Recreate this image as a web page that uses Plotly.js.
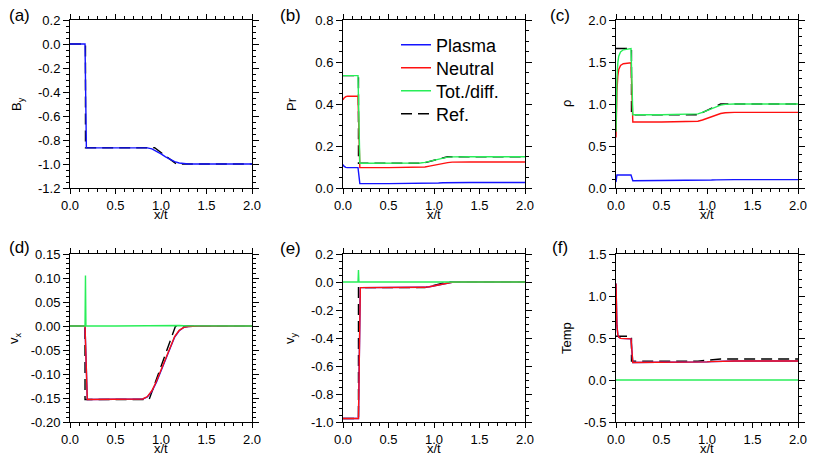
<!DOCTYPE html>
<html>
<head>
<meta charset="utf-8">
<script src="https://cdn.plot.ly/plotly-3.0.1.min.js"></script>
<style>html,body{margin:0;padding:0;background:#fff;}#chart{width:817px;height:467px;}</style>
</head>
<body>
<div id="chart"></div>
<script>
// ---------------- data ----------------
// (a) B_y
const aX       = [0,0.165,0.18,0.8,0.85,0.9,0.95,1.0,1.05,1.1,1.15,1.2,1.25,1.3,1.4,2.0];
const aPlasma  = [0,0,-0.865,-0.865,-0.866,-0.874,-0.892,-0.915,-0.94,-0.962,-0.98,-0.992,-0.998,-1.0,-1.0,-1.0];
const aRefX    = [0,0.17,0.17,0.93,1.17,2.0];
const aRef     = [0,0,-0.865,-0.865,-1.0,-1.0];

// (b) Pr
const bX       = [0,0.01,0.03,0.05,0.165,0.185,0.5,0.85,0.9,0.95,1.0,1.05,1.1,1.15,1.2,1.25,1.3,1.4,2.0];
const bPlasma  = [0.112,0.104,0.098,0.097,0.097,0.021,0.021,0.021,0.0215,0.022,0.023,0.024,0.025,0.0255,0.026,0.026,0.026,0.026,0.026];
const bNeutral = [0.42,0.428,0.435,0.437,0.437,0.097,0.097,0.098,0.1,0.104,0.109,0.114,0.118,0.121,0.123,0.124,0.124,0.124,0.124];
const bTotal   = [0.535,0.535,0.535,0.535,0.535,0.118,0.118,0.119,0.122,0.127,0.133,0.139,0.144,0.147,0.148,0.149,0.149,0.149,0.149];
const bRefX    = [0,0.17,0.17,0.88,1.15,2.0];
const bRef     = [0.535,0.535,0.118,0.118,0.149,0.149];

// (c) rho
const cX       = [0,0.005,0.01,0.02,0.03,0.05,0.08,0.165,0.185,0.5,0.85,0.9,0.95,1.0,1.05,1.1,1.15,1.2,1.25,1.3,1.4,2.0];
const cPlasma  = [0.07,0.15,0.155,0.155,0.155,0.155,0.155,0.155,0.087,0.087,0.087,0.088,0.09,0.092,0.095,0.097,0.099,0.1,0.1,0.1,0.1,0.1];
const cNeutral = [0.6,0.95,1.15,1.33,1.41,1.46,1.48,1.49,0.785,0.785,0.787,0.795,0.81,0.83,0.852,0.872,0.887,0.896,0.9,0.9,0.9,0.9];
const cTotal   = [0.67,1.1,1.3,1.49,1.57,1.62,1.645,1.66,0.872,0.872,0.874,0.883,0.9,0.922,0.947,0.969,0.986,0.996,1.0,1.0,1.0,1.0];
const cRefX    = [0,0.17,0.17,0.9,1.15,2.0];
const cRef     = [1.66,1.66,0.872,0.872,1.0,1.0];

// (d) v_x
const dX       = [0,0.165,0.19,0.5,0.75,0.8,0.85,0.9,0.95,1.0,1.05,1.1,1.15,1.2,1.25,1.3,1.35,1.4,2.0];
const dPlasma  = [0,0,-0.153,-0.153,-0.153,-0.152,-0.148,-0.136,-0.117,-0.093,-0.068,-0.044,-0.023,-0.01,-0.003,-0.001,0,0,0];
const dNeutral = [0,0,-0.153,-0.153,-0.153,-0.152,-0.147,-0.135,-0.115,-0.091,-0.066,-0.042,-0.022,-0.009,-0.003,-0.001,0,0,0];
const dTotX    = [0,0.165,0.17,0.175,0.5,0.8,0.9,1.0,1.1,1.2,1.3,1.5,2.0];
const dTotal   = [0,0,0.105,0,0,0.0005,0.0015,0.002,0.0018,0.001,0.0003,0,0];
const dRefX    = [0,0.165,0.165,0.87,1.16,2.0];
const dRef     = [0,0,-0.153,-0.153,0,0];

// (e) v_y
const eX       = [0,0.17,0.19,0.5,0.85,0.9,0.95,1.0,1.05,1.1,1.15,1.2,1.25,1.3,2.0];
const ePlasma  = [-0.975,-0.975,-0.04,-0.04,-0.04,-0.038,-0.034,-0.028,-0.02,-0.012,-0.006,-0.002,0,0,0];
const eNeutral = [-0.975,-0.975,-0.04,-0.04,-0.04,-0.038,-0.034,-0.028,-0.02,-0.012,-0.006,-0.002,0,0,0];
const eTotX    = [0,0.165,0.17,0.175,2.0];
const eTotal   = [0,0,0.085,0,0];
const eRefX    = [0,0.17,0.17,0.9,1.15,2.0];
const eRef     = [-0.975,-0.975,-0.04,-0.04,0,0];

// (f) Temp
const fX       = [0,0.005,0.01,0.02,0.03,0.05,0.165,0.185,0.5,0.85,0.9,0.95,1.0,1.05,1.1,1.15,1.2,1.3,2.0];
const fPlasma  = [1.15,0.85,0.65,0.54,0.51,0.495,0.49,0.208,0.208,0.208,0.21,0.213,0.216,0.219,0.222,0.224,0.225,0.226,0.226];
const fNeutral = [1.15,0.85,0.65,0.54,0.51,0.495,0.49,0.208,0.208,0.208,0.21,0.213,0.216,0.219,0.222,0.224,0.225,0.226,0.226];
const fTotX    = [0,2.0];
const fTotal   = [0,0];
const fRefX    = [0,0.17,0.17,0.9,1.15,2.0];
const fRef     = [0.52,0.52,0.225,0.225,0.25,0.25];

// ticks
const xTickVals = [0,0.5,1,1.5,2];
const xTickText = ['0.0','0.5','1.0','1.5','2.0'];
const aTickVals = [0.2,0,-0.2,-0.4,-0.6,-0.8,-1.0,-1.2];
const aTickText = ['0.2','0.0','-0.2','-0.4','-0.6','-0.8','-1.0','-1.2'];
const bTickVals = [0,0.2,0.4,0.6,0.8];
const bTickText = ['0.0','0.2','0.4','0.6','0.8'];
const cTickVals = [0,0.5,1,1.5,2];
const cTickText = ['0.0','0.5','1.0','1.5','2.0'];
const dTickVals = [0.15,0.1,0.05,0,-0.05,-0.1,-0.15,-0.2];
const dTickText = ['0.15','0.10','0.05','0.00','-0.05','-0.10','-0.15','-0.20'];
const eTickVals = [0.2,0,-0.2,-0.4,-0.6,-0.8,-1.0];
const eTickText = ['0.2','0.0','-0.2','-0.4','-0.6','-0.8','-1.0'];
const fTickVals = [1.5,1,0.5,0,-0.5];
const fTickText = ['1.5','1.0','0.5','0.0','-0.5'];

const panelLabels = ['(a)','(b)','(c)','(d)','(e)','(f)'];
const yTitles = ['B<sub>y</sub>','Pr','\u03c1','v<sub>x</sub>','v<sub>y</sub>','Temp'];
const xTitle = 'x/t';
const seriesNames = ['Plasma','Neutral','Tot./diff.','Ref.'];

// ---------------- layout helpers ----------------
const W = 817, H = 467;
const px = v => v / W;
const py = v => 1 - v / H;
const cols = [[70,252],[343,525],[616,798]];
const rows = [[20,188],[254,422]];
const FONT = 'Liberation Sans, Arial, sans-serif';
const colors = {plasma:'#1414ff', neutral:'#ff1010', total:'#28ee58', ref:'#000000'};

function xAxis(i){
  const c = cols[i % 3];
  return {
    domain:[px(c[0]), px(c[1])], range:[0,2], anchor: i===0?'y':'y'+(i+1),
    tickmode:'array', tickvals:xTickVals, ticktext:xTickText,
    showline:true, linecolor:'#000', linewidth:1, mirror:'allticks',
    ticks:'outside', ticklen:5, tickwidth:1, tickcolor:'#000',
    minor:{tickmode:'linear', tick0:0, dtick:0.1, ticks:'outside', ticklen:3, tickwidth:1, tickcolor:'#000'},
    showgrid:false, zeroline:false, fixedrange:true,
    tickfont:{family:FONT, size:13, color:'#000'}
  };
}
function yAxis(i, range, vals, text, mdt){
  const r = rows[Math.floor(i/3)];
  return {
    domain:[py(r[1]), py(r[0])], range:range, anchor: i===0?'x':'x'+(i+1),
    tickmode:'array', tickvals:vals, ticktext:text,
    showline:true, linecolor:'#000', linewidth:1, mirror:'allticks',
    ticks:'outside', ticklen:6, tickwidth:1, tickcolor:'#000',
    minor:{tickmode:'linear', tick0:0, dtick:mdt, ticks:'outside', ticklen:3, tickwidth:1, tickcolor:'#000'},
    showgrid:false, zeroline:false, fixedrange:true,
    tickfont:{family:FONT, size:13, color:'#000'}
  };
}

function legendAt(yc){
  return {x:px(396), y:py(yc), xanchor:'left', yanchor:'middle', bgcolor:'rgba(0,0,0,0)',
          borderwidth:0, font:{family:FONT, size:18, color:'#000'}, itemwidth:30};
}

const layout = {
  width:W, height:H, margin:{l:0,r:0,t:0,b:0}, autosize:false,
  paper_bgcolor:'#fff', plot_bgcolor:'#fff',
  font:{family:FONT, size:13, color:'#000'},
  showlegend:true,
  legend: legendAt(45), legend2: legendAt(68), legend3: legendAt(91), legend4: legendAt(114),
  xaxis: xAxis(0), xaxis2: xAxis(1), xaxis3: xAxis(2), xaxis4: xAxis(3), xaxis5: xAxis(4), xaxis6: xAxis(5),
  yaxis:  yAxis(0,[-1.2,0.2], aTickVals, aTickText, 0.05),
  yaxis2: yAxis(1,[0,0.8],   bTickVals, bTickText, 0.05),
  yaxis3: yAxis(2,[0,2],     cTickVals, cTickText, 0.1),
  yaxis4: yAxis(3,[-0.2,0.15], dTickVals, dTickText, 0.01),
  yaxis5: yAxis(4,[-1.0,0.2], eTickVals, eTickText, 0.05),
  yaxis6: yAxis(5,[-0.5,1.5], fTickVals, fTickText, 0.1),
  annotations:[]
};

const labelPos = [[19,15],[290,15],[560,15],[19,247],[290,248],[560,247]];
const yTitlePos = [[17,104],[291,104],[566,104],[14,338],[290,338],[566,338]];
for (let i=0;i<6;i++){
  layout.annotations.push({text:panelLabels[i], xref:'paper', yref:'paper', x:px(labelPos[i][0]), y:py(labelPos[i][1]),
    xanchor:'center', yanchor:'middle', showarrow:false, font:{family:FONT, size:17, color:'#000'}});
  layout.annotations.push({text:yTitles[i], xref:'paper', yref:'paper', x:px(yTitlePos[i][0]), y:py(yTitlePos[i][1]),
    xanchor:'center', yanchor:'middle', textangle:-90, showarrow:false, font:{family:FONT, size:13, color:'#000'}});
  const c = cols[i%3], r = rows[Math.floor(i/3)];
  layout.annotations.push({text:xTitle, xref:'paper', yref:'paper', x:px((c[0]+c[1])/2), y:py(r[1]+26),
    xanchor:'center', yanchor:'middle', showarrow:false, font:{family:FONT, size:13, color:'#000'}});
}

// ---------------- traces ----------------
const traces = [];
const legendOf = {plasma:'legend', neutral:'legend2', total:'legend3', ref:'legend4'};
function line(x, y, i, kind, legend){
  const ax = i===0 ? '' : String(i+1);
  const names = {plasma:seriesNames[0], neutral:seriesNames[1], total:seriesNames[2], ref:seriesNames[3]};
  traces.push({
    type:'scatter', mode:'lines', x:x, y:y, xaxis:'x'+ax, yaxis:'y'+ax,
    name:names[kind], showlegend:!!legend, legend:legendOf[kind], hoverinfo:'skip',
    line:{color:colors[kind], width:1.4, dash: kind==='ref' ? '11px,6px' : 'solid'}
  });
}
// (a)
line(aRefX, aRef, 0, 'ref');
line(aX, aPlasma, 0, 'plasma');
// (b)
line(bRefX, bRef, 1, 'ref', true);
line(bX, bPlasma, 1, 'plasma', true);
line(bX, bNeutral, 1, 'neutral', true);
line(bX, bTotal, 1, 'total', true);
// (c)
line(cRefX, cRef, 2, 'ref');
line(cX, cPlasma, 2, 'plasma');
line(cX, cNeutral, 2, 'neutral');
line(cX, cTotal, 2, 'total');
// (d)
line(dRefX, dRef, 3, 'ref');
line(dX, dPlasma, 3, 'plasma');
line(dX, dNeutral, 3, 'neutral');
line(dTotX, dTotal, 3, 'total');
// (e)
line(eRefX, eRef, 4, 'ref');
line(eX, ePlasma, 4, 'plasma');
line(eX, eNeutral, 4, 'neutral');
line(eTotX, eTotal, 4, 'total');
// (f)
line(fRefX, fRef, 5, 'ref');
line(fX, fPlasma, 5, 'plasma');
line(fX, fNeutral, 5, 'neutral');
line(fTotX, fTotal, 5, 'total');

Plotly.newPlot('chart', traces, layout, {staticPlot:true, displayModeBar:false});
</script>
</body>
</html>
